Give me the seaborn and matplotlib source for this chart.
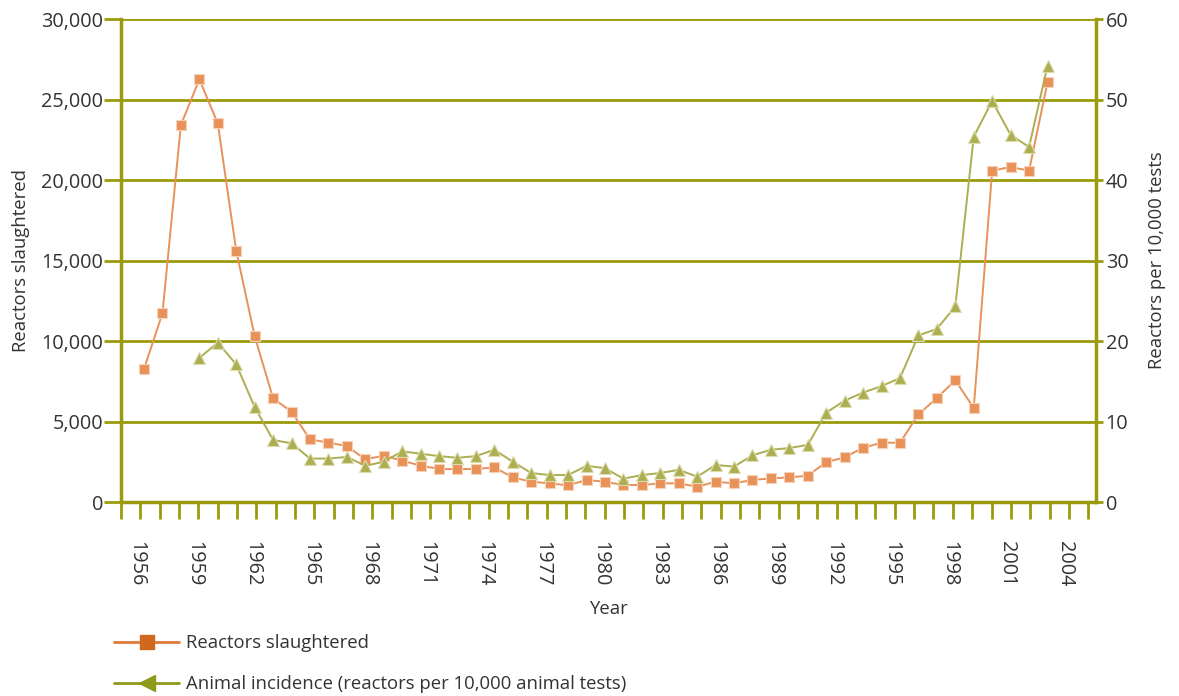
import numpy as np
import pandas as pd
import seaborn as sns
import matplotlib
matplotlib.use("Agg")
from matplotlib import pyplot as plt
from matplotlib.lines import Line2D
from matplotlib.ticker import FuncFormatter
from matplotlib.transforms import ScaledTranslation

# data
slaughter_years = list(range(1956, 2006))
reactors_slaughtered = [8260, 11720, 23420, 26250, 23520, 15610, 10310, 6440, 5610, 3890,
                        3690, 3480, 2650, 2880, 2570, 2260, 2050, 2050, 2050, 2150,
                        1530, 1260, 1160, 1035, 1370, 1260, 1055, 1055, 1160, 1160,
                        950, 1260, 1160, 1370, 1470, 1530, 1635, 2480, 2775, 3375,
                        3685, 3685, 5445, 6460, 7560, 5840, 20580, 20810, 20580, 26065]

incidence_years = list(range(1959, 2006))
animal_incidence = [17.9, 19.8, 17.1, 11.8, 7.7, 7.3, 5.4, 5.4, 5.6, 4.5,
                    5.0, 6.3, 6.0, 5.7, 5.5, 5.7, 6.5, 5.0, 3.6, 3.35,
                    3.35, 4.5, 4.2, 2.9, 3.35, 3.6, 4.0, 3.15, 4.6, 4.4,
                    5.8, 6.5, 6.7, 7.1, 11.1, 12.6, 13.6, 14.4, 15.4, 20.7,
                    21.5, 24.3, 45.4, 49.8, 45.6, 44.1, 54.2]

tick_years = list(range(1955, 2006))
shown_labels = [str(y) if y >= 1956 and (y - 1956) % 3 == 0 else '' for y in tick_years]

left_ticks = [0, 5000, 10000, 15000, 20000, 25000, 30000]
right_ticks = [0, 10, 20, 30, 40, 50, 60]

df_s = pd.DataFrame({'year': slaughter_years, 'value': reactors_slaughtered})
df_i = pd.DataFrame({'year': incidence_years, 'value': animal_incidence})

sns.set_theme(style='white')
plt.rcParams['font.family'] = ['Open Sans', 'DejaVu Sans']

OLIVE = '#9a9a0c'
ORANGE = '#e8925a'
GREEN = '#adae52'
TXT = '#333333'

fig = plt.figure(figsize=(11.79, 6.96), dpi=100)
ax = fig.add_axes([0.1026, 0.2787, 0.8270, 0.6940])

sns.lineplot(data=df_s, x='year', y='value', ax=ax, color=ORANGE, marker='s',
             markersize=6.5, markeredgewidth=0.8, markeredgecolor='#f6d2b8',
             linewidth=1.4, zorder=5)
ax.set_xlim(1954.75, 2007.63)
ax.set_ylim(0, 30000)
ax.set_yticks(left_ticks)
ax.yaxis.set_major_formatter(FuncFormatter(lambda v, p: f'{v:,.0f}'))
ax.set_xticks([])
ax.set_xlabel('')
ax.set_ylabel('Reactors slaughtered', fontsize=13.3, color=TXT, labelpad=8)
ax.grid(axis='y', color=OLIVE, linewidth=2.0)
ax.set_axisbelow(True)
ax.tick_params(axis='y', left=True, length=12, width=2, color=OLIVE, pad=1,
               labelsize=14.3, labelcolor=TXT)

axr = ax.twinx()
sns.lineplot(data=df_i, x='year', y='value', ax=axr, color=GREEN, marker='^',
             markersize=9, markeredgewidth=0.8, markeredgecolor='#dcdcae',
             linewidth=1.4, zorder=5)
axr.set_ylim(0, 60)
axr.set_yticks(right_ticks)
axr.set_xlabel('')
axr.set_ylabel('Reactors per 10,000 tests', fontsize=13.3, color=TXT, labelpad=14)
axr.tick_params(axis='y', right=True, length=5, width=2, color=OLIVE, pad=2,
                labelsize=14.3, labelcolor=TXT)

axx = ax.twiny()
axx.set_xlim(1955.0, 2005.4)
axx.xaxis.set_ticks_position('bottom')
axx.xaxis.set_label_position('bottom')
axx.set_xticks(tick_years)
axx.set_xticklabels(shown_labels, rotation=270, fontsize=14.3, color=TXT)
axx.tick_params(axis='x', bottom=True, top=False, length=12, width=2, color=OLIVE, pad=16)
axx.set_xlabel('Year', fontsize=13.3, color=TXT, labelpad=10)
shift = ScaledTranslation(-4 / 100, 0, fig.dpi_scale_trans)
for lab in axx.get_xticklabels():
    lab.set_transform(lab.get_transform() + shift)

for a in (ax, axr, axx):
    a.patch.set_visible(False)
    for side in a.spines.values():
        side.set_visible(False)
ax.spines['left'].set_visible(True)
ax.spines['left'].set_color(OLIVE)
ax.spines['left'].set_linewidth(2.5)
axr.spines['right'].set_visible(True)
axr.spines['right'].set_color(OLIVE)
axr.spines['right'].set_linewidth(2.5)
axx.spines['bottom'].set_visible(True)
axx.spines['bottom'].set_color(OLIVE)
axx.spines['bottom'].set_linewidth(2.5)

handles = [Line2D([], [], color='#e07a38', linewidth=2, marker='s', markersize=10,
                  markerfacecolor='#d0681e', markeredgecolor='#d0681e'),
           Line2D([], [], color='#8e9a1b', linewidth=2, marker='<', markersize=12,
                  markerfacecolor='#8e9a1b', markeredgecolor='#8e9a1b')]
fig.legend(handles, ['Reactors slaughtered',
                     'Animal incidence (reactors per 10,000 animal tests)'],
           loc='lower left', bbox_to_anchor=(0.097, 0.004), frameon=False,
           fontsize=13.3, handlelength=3.5, handletextpad=0.4, labelspacing=1.25,
           labelcolor=TXT, borderaxespad=0, borderpad=0)

fig.savefig('out.png', dpi=100)
